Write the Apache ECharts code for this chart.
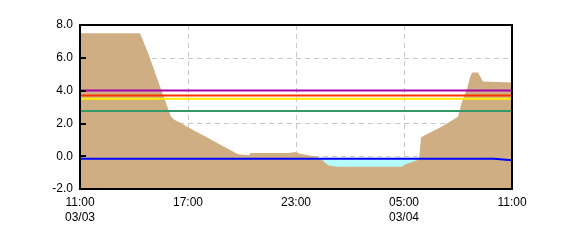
<!DOCTYPE html>
<html><head><meta charset="utf-8">
<script src="https://cdn.jsdelivr.net/npm/echarts@6/dist/echarts.min.js"></script>
<style>html,body{margin:0;padding:0;background:#fff}#c{width:570px;height:250px}</style>
</head><body><div id="c"></div>
<script>
// time labels (hours after 03/03 11:00) and levels
var xTickLabels = ['11:00\n03/03', '17:00', '23:00', '05:00\n03/04', '11:00'];
var yTickLabels = ['-2.0', '0.0', '2.0', '4.0', '6.0', '8.0'];
// tan series: times (HH:MM, 03/03 11:00 -> 03/04 11:00) and values
var levelTimes = ['11:00','14:20','14:47','15:27','16:03','16:13','16:33','17:00','19:47','19:50','20:25','20:27','22:33','22:36','23:00','23:13','23:47','00:13','00:27','00:47','01:03','01:20','04:53','05:03','05:37','05:50','05:57','06:03','06:27','07:00','07:33','08:00','08:13','08:30','08:40','08:47','09:07','09:23','11:00'];
var levelValues = [7.5,7.5,6.3,4.24,2.42,2.24,2.06,1.76,0.12,0.06,0.06,0.2,0.2,0.25,0.25,0.15,0.05,-0.05,-0.24,-0.55,-0.62,-0.65,-0.65,-0.5,-0.3,-0.2,1.15,1.25,1.45,1.75,2.1,2.4,3.3,4.1,4.8,5.1,5.1,4.55,4.5];
// blue reference line (steps)
var blueTimes = ['11:00','10:00','10:00','11:00'];
var blueValues = [-0.15,-0.15,-0.25,-0.25];
var blueIsEnd = [false,false,false,true];
// horizontal warning lines
var refNames = ['green','yellow','red','purple'];
var refValues = [2.75, 3.5, 3.7, 4.0];
var refColors = ['#339966','#ffee00','#ff3300','#aa00aa'];

function hoursAfterStart(t, isEnd) {
  var p = t.split(':');
  var h = +p[0] + (+p[1]) / 60 - 11;
  if (h < 0 || (isEnd && h === 0)) h += 24;
  return h;
}
var levelData = levelTimes.map(function (t, i) { return [hoursAfterStart(t, i === levelTimes.length - 1), levelValues[i]]; });
var blueData = blueTimes.map(function (t, i) { return [hoursAfterStart(t, blueIsEnd[i]), blueValues[i]]; });

var series = [];
series.push({ type: 'line', data: blueData, symbol: 'none', lineStyle: { width: 0 },
  areaStyle: { color: '#b4fcfc', origin: 'start', opacity: 1 }, silent: true, z: 1 });
series.push({ type: 'line', data: levelData, symbol: 'none', lineStyle: { width: 0 },
  areaStyle: { color: '#cfae83', origin: 'start', opacity: 1 }, silent: true, z: 2 });
refValues.forEach(function (v, i) {
  series.push({ name: refNames[i], type: 'line', data: [[0, v], [24, v]], symbol: 'none',
    lineStyle: { color: refColors[i], width: 2 }, silent: true, z: 3 });
});
series.push({ type: 'line', data: blueData, symbol: 'none',
  lineStyle: { color: '#0000ff', width: 2 }, silent: true, z: 4 });

var dash = { color: '#c8c8c8', type: [5, 4], width: 1 };
var border = { show: true, onZero: false, lineStyle: { color: '#000', width: 2 } };
var noLine = { show: false, onZero: false };
var chart = echarts.init(document.getElementById('c'), null, { renderer: 'canvas' });
var xBase = { type: 'value', min: 0, max: 24, interval: 6 };
var yBase = { type: 'value', min: -2, max: 8, interval: 2 };
function ext(a, b) { var o = {}; for (var k in a) o[k] = a[k]; for (var k2 in b) o[k2] = b[k2]; return o; }
chart.setOption({
  animation: false,
  backgroundColor: '#ffffff',
  grid: { left: 80, right: 58, top: 25, bottom: 61, show: false },
  xAxis: [
    ext(xBase, { position: 'bottom', z: 10, axisLine: border, axisTick: { show: false }, splitLine: { show: false },
      axisLabel: { color: '#000', fontFamily: 'Liberation Sans, Arial', fontSize: 12, lineHeight: 15, margin: 6,
        formatter: function (v) { return xTickLabels[Math.round(v / 6)]; } } }),
    ext(xBase, { position: 'top', z: 10, axisLine: border, axisTick: { show: false }, axisLabel: { show: false }, splitLine: { show: false } }),
    ext(xBase, { position: 'bottom', z: 0, axisLine: noLine, axisTick: { show: false }, axisLabel: { show: false },
      splitLine: { show: true, lineStyle: dash } })
  ],
  yAxis: [
    ext(yBase, { position: 'left', z: 10, axisLine: border,
      axisTick: { show: true, inside: true, length: 6, lineStyle: { color: '#000', width: 2 } }, splitLine: { show: false },
      axisLabel: { color: '#000', fontFamily: 'Liberation Sans, Arial', fontSize: 12, margin: 7,
        formatter: function (v) { return yTickLabels[Math.round((v + 2) / 2)]; } } }),
    ext(yBase, { position: 'right', z: 10, axisLine: border, axisTick: { show: false }, axisLabel: { show: false }, splitLine: { show: false } }),
    ext(yBase, { position: 'left', z: 0, axisLine: noLine, axisTick: { show: false }, axisLabel: { show: false },
      splitLine: { show: true, lineStyle: dash } })
  ],
  series: series
});
</script></body></html>
